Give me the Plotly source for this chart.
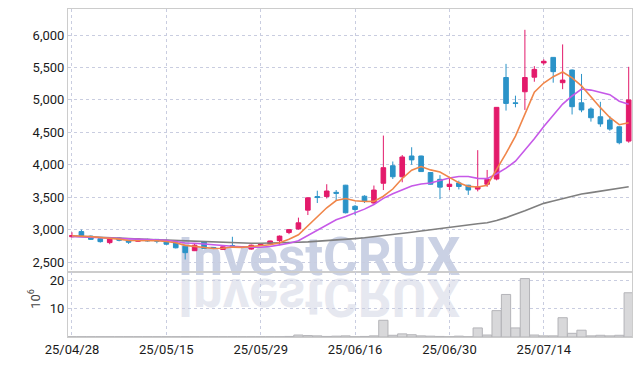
import plotly.graph_objects as go
from plotly.subplots import make_subplots

dates = ["25/04/28","25/04/29","25/04/30","25/05/02","25/05/07","25/05/08","25/05/09","25/05/12","25/05/13","25/05/14",
         "25/05/15","25/05/16","25/05/19","25/05/20","25/05/21","25/05/22","25/05/23","25/05/26","25/05/27","25/05/28",
         "25/05/29","25/05/30","25/06/02","25/06/04","25/06/05","25/06/09","25/06/10","25/06/11","25/06/12","25/06/13",
         "25/06/16","25/06/17","25/06/18","25/06/19","25/06/20","25/06/23","25/06/24","25/06/25","25/06/26","25/06/27",
         "25/06/30","25/07/01","25/07/02","25/07/03","25/07/04","25/07/07","25/07/08","25/07/09","25/07/10","25/07/11",
         "25/07/14","25/07/15","25/07/16","25/07/17","25/07/18","25/07/21","25/07/22","25/07/23","25/07/24","25/07/25"]

open_ = [2890,2970,2900,2860,2800,2870,2835,2820,2850,2850,
         2835,2795,2745,2675,2810,2725,2695,2755,2740,2700,
         2760,2780,2830,2955,3010,3300,3510,3510,3575,3685,
         3360,3515,3410,3715,3985,3815,4135,4135,3880,3775,
         3665,3720,3685,3625,3700,3780,5345,4955,5125,5350,
         5570,5655,5265,5460,4955,4860,4740,4690,4585,4365]
high = [2960,3000,2910,2870,2860,2880,2840,2865,2860,2855,
        2840,2800,2760,2790,2820,2730,2740,2890,2745,2770,
        2785,2830,2910,3010,3185,3500,3600,3700,3610,3690,
        3380,3530,3680,4450,4050,4150,4270,4140,3885,3840,
        3815,3755,3690,4225,3920,4890,5555,5065,6080,5520,
        5625,5660,5855,5470,5400,4885,4970,4750,4590,5510]
low = [2880,2890,2840,2800,2775,2820,2780,2810,2815,2790,
       2765,2710,2540,2670,2700,2700,2690,2730,2725,2690,
       2750,2770,2760,2930,3000,3225,3410,3480,3455,3250,
       3225,3410,3400,3610,3780,3730,4000,3890,3695,3470,
       3610,3620,3535,3590,3660,3760,4835,4885,4845,5280,
       5540,5265,5165,4775,4810,4665,4585,4525,4315,4340]
close = [2910,2910,2850,2815,2855,2835,2805,2855,2825,2820,
         2775,2720,2645,2760,2710,2710,2735,2740,2735,2760,
         2775,2825,2900,3000,3105,3490,3495,3595,3560,3260,
         3310,3440,3610,3955,3815,4120,4075,3895,3700,3655,
         3700,3665,3610,3660,3775,4885,4945,4945,5345,5470,
         5595,5435,5305,4895,4845,4725,4630,4550,4340,5000]

ma_short = [2905,2900,2892,2878,2868,2853,2832,2833,2835,2828,
            2816,2799,2757,2744,2722,2709,2712,2731,2726,2736,
            2749,2767,2799,2852,2921,3064,3198,3337,3449,3480,
            3444,3433,3436,3515,3626,3788,3915,3972,3921,3889,
            3805,3723,3666,3658,3682,3919,4175,4442,4779,5118,
            5260,5358,5430,5340,5215,5041,4880,4729,4618,4649]
ma_mid = [2895,2890,2884,2876,2870,2864,2858,2854,2851,2848,
          2835,2816,2795,2790,2775,2763,2756,2744,2735,2729,
          2729,2740,2765,2789,2829,2907,2983,3068,3151,3201,
          3254,3316,3387,3482,3553,3616,3674,3704,3718,3758,
          3797,3819,3819,3790,3786,3862,3949,4054,4219,4400,
          4590,4767,4936,5060,5167,5151,5119,5080,4979,4932]
ma_long = [2900,2895,2890,2885,2880,2870,2865,2858,2850,2845,
           2838,2832,2825,2818,2812,2806,2800,2796,2793,2790,
           2790,2792,2795,2800,2806,2812,2820,2830,2840,2850,
           2862,2875,2890,2905,2920,2940,2960,2980,3000,3018,
           3035,3055,3072,3090,3107,3140,3185,3235,3290,3350,
           3405,3440,3475,3512,3548,3570,3595,3618,3640,3660]

volume = [0.1,0.1,0.1,0.1,0.1,0.1,0.1,0.1,0.1,0.1,
          0.1,0.1,0.1,0.1,0.1,0.1,0.1,0.1,0.1,0.1,
          0.1,0.1,0.1,0.2,0.7,0.5,0.4,0.2,0.3,0.4,
          0.1,0.2,0.4,5.9,0.6,1.1,0.8,0.4,0.3,0.2,
          0.1,0.3,0.1,3.2,0.7,9.3,15.0,3.2,20.6,0.7,
          0.4,0.4,6.8,1.3,2.4,0.4,0.6,0.4,0.6,15.6]

tick_dates = ["25/04/28","25/05/15","25/05/29","25/06/16","25/06/30","25/07/14"]
price_ticks = [2500,3000,3500,4000,4500,5000,5500,6000]
vol_ticks = [10,20]
watermark = "InvestCRUX"

UP = "#e31a6b"
DOWN = "#2b93c8"
GRID = "#c9cde0"
LINE = "#cccccc"
FONT = "Roboto, sans-serif"

fig = make_subplots(rows=2, cols=1, shared_xaxes=True, vertical_spacing=0,
                    row_heights=[0.802, 0.198])

fig.add_trace(go.Candlestick(
    x=dates, open=open_, high=high, low=low, close=close,
    increasing=dict(line=dict(color=UP, width=1), fillcolor=UP),
    decreasing=dict(line=dict(color=DOWN, width=1), fillcolor=DOWN),
    whiskerwidth=0, showlegend=False), row=1, col=1)
fig.add_trace(go.Scatter(x=dates, y=ma_long, mode="lines",
                         line=dict(color="#7f7f7f", width=1.6), showlegend=False), row=1, col=1)
fig.add_trace(go.Scatter(x=dates, y=ma_mid, mode="lines",
                         line=dict(color="#c659e8", width=1.6), showlegend=False), row=1, col=1)
fig.add_trace(go.Scatter(x=dates, y=ma_short, mode="lines",
                         line=dict(color="#f0864a", width=1.6), showlegend=False), row=1, col=1)
fig.add_trace(go.Bar(x=dates, y=volume, marker=dict(color="#d8d8da", line=dict(color="#b4b4b8", width=1)),
                     showlegend=False), row=2, col=1)

tickfont = dict(family=FONT, size=13, color="#1a1a1a")
xcommon = dict(type="category", range=[-0.42, 59.35], tickvals=tick_dates,
               showgrid=True, gridcolor=GRID, griddash="dot", gridwidth=1,
               showline=True, linecolor=LINE, linewidth=1, mirror=True,
               zeroline=False, ticks="", automargin=False, rangeslider=dict(visible=False))
fig.update_xaxes(**xcommon)
fig.update_xaxes(showticklabels=False, row=1, col=1)
fig.update_xaxes(showticklabels=True, tickfont=tickfont, row=2, col=1)

fig.update_yaxes(range=[2346, 6401], tickvals=price_ticks, tickformat=",",
                 showgrid=True, gridcolor=GRID, griddash="dot", automargin=False,
                 showline=True, linecolor=LINE, mirror=True, zeroline=False, ticks="",
                 tickfont=tickfont, row=1, col=1)
fig.update_yaxes(range=[0, 22.9], tickvals=vol_ticks, automargin=False,
                 showgrid=True, gridcolor=GRID, griddash="dot",
                 showline=True, linecolor=LINE, mirror=True, zeroline=False, ticks="",
                 tickfont=tickfont, row=2, col=1)

fig.add_annotation(text="10<sup>6</sup>", xref="paper", yref="paper", x=-0.078, y=0.08,
                   textangle=-90, showarrow=False, font=dict(family=FONT, size=13, color="#444"))

wm_font = dict(family="Roboto, sans-serif", size=53, color="#cad1e4", weight="bold")
wm_font2 = dict(family="Roboto, sans-serif", size=53, color="#e6e8f0", weight="bold")
fig.add_shape(type="rect", xref="paper", yref="paper", x0=0.19, x1=0.70, y0=0.195, y1=0.317,
              line=dict(width=0), fillcolor="rgba(0,0,0,0)", layer="below",
              label=dict(text=watermark, font=wm_font, textposition="middle center"))
fig.add_shape(type="rect", xref="paper", yref="paper", x0=0.19, x1=0.70, y0=0.073, y1=0.195,
              line=dict(width=0), fillcolor="rgba(0,0,0,0)", layer="below",
              label=dict(text=watermark, font=wm_font2, textposition="middle center"))

fig.update_layout(width=642, height=366, margin=dict(l=68, r=10, t=9, b=29),
                  paper_bgcolor="white", plot_bgcolor="white", bargap=0.02,
                  hovermode=False, showlegend=False)

post = """
(function(){
  document.body.style.margin = '0';
  document.body.style.padding = '0';
  var gd = document.getElementById('{plot_id}');
  function flip(){
    var ts = Array.prototype.slice.call(gd.querySelectorAll('text')).filter(function(t){return t.textContent === 'InvestCRUX';});
    if (ts.length < 2) return;
    ts.sort(function(a,b){return a.getBoundingClientRect().top - b.getBoundingClientRect().top;});
    var t = ts[ts.length-1];
    t.style.transformBox = 'fill-box';
    t.style.transformOrigin = 'center';
    t.style.transform = 'scaleY(-1)';
  }
  flip();
  if (gd && gd.on) gd.on('plotly_afterplot', flip);
  setTimeout(flip, 200);
})();
"""
fig.write_html("out.html", post_script=post, config={"displayModeBar": False})
